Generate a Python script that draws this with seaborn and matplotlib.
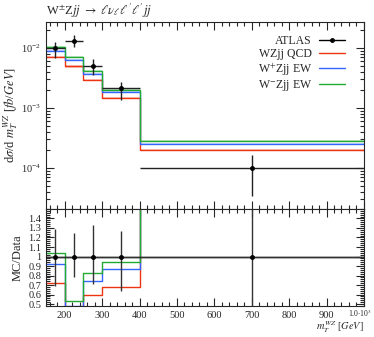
import numpy as np
import pandas as pd
import seaborn as sns
import matplotlib.pyplot as plt
from matplotlib.lines import Line2D
from matplotlib.ticker import FixedLocator, MultipleLocator, NullFormatter, LogLocator

# bins in m_T^WZ [GeV]
bin_edges = [150, 200, 250, 300, 400, 1000]

# ATLAS data
data_vals = [0.0098, 0.0132, 0.00489, 0.00213, 1.0e-4]
data_up = [0.0126, 0.0164, 0.0065, 0.0027, 1.67e-4]
data_down = [0.0068, 0.0104, 0.0035, 0.00136, 3.45e-5]

# predictions
qcd_vals = [0.00710, 0.00489, 0.00293, 0.00145, 2.0e-4]
wp_vals = [0.0090, 0.0063, 0.00365, 0.00184, 2.54e-4]
wm_vals = [0.0102, 0.0070, 0.00406, 0.00200, 2.78e-4]

labels = ["WZjj QCD", "W$^{+}$Zjj EW", "W$^{-}$Zjj EW"]
colors = ["#ee3311", "#3366ff", "#22aa33"]

sns.set_style("ticks")
plt.rcParams["font.family"] = ["Liberation Serif", "DejaVu Serif"]
plt.rcParams["mathtext.fontset"] = "stix"
plt.rcParams["xtick.direction"] = "in"
plt.rcParams["ytick.direction"] = "in"

edges = np.array(bin_edges)
centers = 0.5 * (edges[:-1] + edges[1:])
halfw = 0.5 * (edges[1:] - edges[:-1])
dv = np.array(data_vals)

# step tables for seaborn
rows = []
for lab, vals in zip(labels, [qcd_vals, wp_vals, wm_vals]):
    v = np.array(vals)
    yy = list(v) + [v[-1]]
    rr = list(v / dv) + [v[-1] / dv[-1]]
    for x, y, r in zip(edges, yy, rr):
        rows.append({"x": x, "y": y, "ratio": r, "sample": lab})
df = pd.DataFrame(rows)

fig = plt.figure(figsize=(3.74, 3.37), dpi=100)
ax = fig.add_axes([0.123, 0.380, 0.850, 0.555])
axr = fig.add_axes([0.123, 0.092, 0.850, 0.288], sharex=ax)

palette = dict(zip(labels, colors))

# light bands under the lines
for lab, vals in zip(labels, [qcd_vals, wp_vals, wm_vals]):
    ax.stairs(np.array(vals) * 1.04, edges, baseline=np.array(vals) * 0.96,
              fill=True, color=palette[lab], alpha=0.25, lw=0)

sns.lineplot(data=df, x="x", y="y", hue="sample", palette=palette,
             drawstyle="steps-post", estimator=None, lw=1.0, ax=ax, legend=False)
sns.lineplot(data=df, x="x", y="ratio", hue="sample", palette=palette,
             drawstyle="steps-post", estimator=None, lw=1.0, ax=axr, legend=False)

yerr = [dv - np.array(data_down), np.array(data_up) - dv]
ax.errorbar(centers, dv, xerr=halfw, yerr=yerr, fmt="o", color="black",
            ecolor="#222222", ms=2.5, lw=1.0, capsize=0, zorder=5)

axr.axhline(1.0, color="black", lw=1.0, zorder=4)
rerr = [yerr[0] / dv, yerr[1] / dv]
axr.errorbar(centers, np.ones(len(dv)), xerr=halfw, yerr=rerr, fmt="o",
             color="black", ecolor="#333333", ms=2.5, lw=1.0, capsize=0, zorder=5)

# legend
handles = [Line2D([], [], color="black", lw=1.0, marker="o", ms=2.5)]
handles += [Line2D([], [], color=c, lw=1.0) for c in colors]
ax.legend(handles, ["ATLAS"] + labels, loc="upper right", frameon=False,
          markerfirst=False, fontsize=8.5, handlelength=2.2,
          handletextpad=0.6, labelspacing=0.08, borderaxespad=0.0,
          bbox_to_anchor=(0.955, 0.955))

# main axes
ax.set_yscale("log")
ax.set_ylim(2.07e-5, 2.7e-2)
ax.set_xlim(150, 1000)
ax.yaxis.set_major_locator(FixedLocator([1e-4, 1e-3, 1e-2]))
ax.yaxis.set_minor_locator(LogLocator(base=10, subs=np.arange(2, 10)))
ax.yaxis.set_minor_formatter(NullFormatter())
ax.set_ylabel(r"d$\sigma$/d $m_T^{WZ}$ [$fb$/$GeV$]", fontsize=9, labelpad=1)
ax.tick_params(axis="x", labelbottom=False)
ax.set_xlabel("")
ax.set_title(r"W$^{\pm}$Z$jj$ $\rightarrow$ $\ell\nu_\ell\ell^{\prime}\ell^{\prime}jj$",
             loc="left", fontsize=9, pad=5)

# ratio axes
axr.set_ylim(0.48, 1.5)
axr.yaxis.set_minor_locator(MultipleLocator(0.02))
axr.set_yticks(np.round(np.arange(0.5, 1.41, 0.1), 1))
axr.set_yticklabels(["0.5", "0.6", "0.7", "0.8", "0.9", "1", "1.1", "1.2", "1.3", "1.4"])
axr.set_xticks([200, 300, 400, 500, 600, 700, 800, 900, 1000])
axr.set_xticklabels(["200", "300", "400", "500", "600", "700", "800", "900", ""])
axr.xaxis.set_minor_locator(MultipleLocator(20))
axr.text(990, 0.462, r"1.0$\cdot$10$^3$", fontsize=5.5, ha="center", va="top",
         transform=axr.transData)
axr.set_ylabel("MC/Data", fontsize=9, labelpad=3)
axr.set_xlabel(r"$m_T^{WZ}$ [$GeV$]", fontsize=7.5, loc="right", va="top")
axr.xaxis.set_label_coords(1.0, -0.135)

for a in (ax, axr):
    a.tick_params(which="both", top=True, right=True, labelsize=7.5, width=0.8)
    a.tick_params(which="major", length=6)
    a.tick_params(which="minor", length=3)
    for s in a.spines.values():
        s.set_linewidth(0.8)
ax.xaxis.set_minor_locator(MultipleLocator(20))

fig.savefig("out.png", dpi=100)
